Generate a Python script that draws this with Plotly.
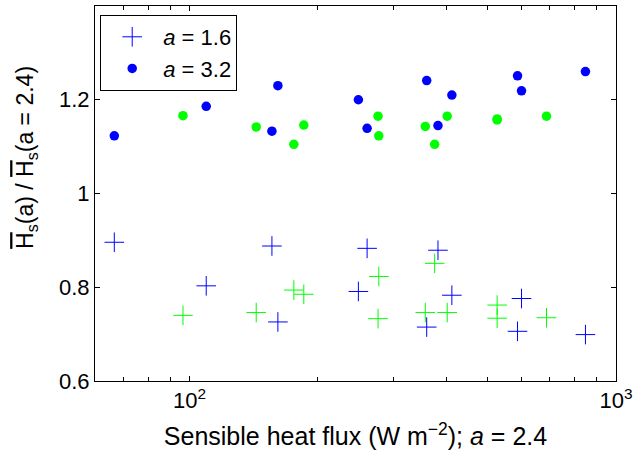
import plotly.graph_objects as go

# Sensible heat flux (W m^-2), a = 2.4
blue_flux = [66.6, 109.4, 156.0, 161.1, 248.8, 260.8, 359.8, 382.4, 412.2, 587.6, 600.4, 847.9]
blue_a16 = [0.896, 0.803, 0.888, 0.726, 0.791, 0.883, 0.715, 0.879, 0.783, 0.706, 0.776, 0.699]
blue_a32 = [1.123, 1.186, 1.133, 1.230, 1.200, 1.139, 1.241, 1.145, 1.210, 1.251, 1.219, 1.260]

green_flux = [96.5, 143.3, 175.6, 185.3, 276.7, 277.8, 357.1, 375.6, 401.9, 526.3, 526.3, 687.1]
green_a16 = [0.740, 0.746, 0.794, 0.785, 0.733, 0.823, 0.746, 0.851, 0.746, 0.762, 0.734, 0.735]
green_a32 = [1.166, 1.142, 1.105, 1.146, 1.165, 1.123, 1.143, 1.105, 1.165, 1.159, 1.157, 1.165]

x_major = [100, 1000]
x_major_text = ["10<sup>2</sup>", "10<sup>3</sup>"]
x_minor = [60, 70, 80, 90, 200, 300, 400, 500, 600, 700, 800, 900]
y_ticks = [0.6, 0.8, 1.0, 1.2]
y_tick_text = ["0.6", "0.8", "1", "1.2"]

FONT = "Liberation Sans, Arial, Helvetica, sans-serif"
FS = 22
BLUE = "#0000ff"
GREEN = "#00ff00"


def plus(color):
    return dict(symbol="cross-thin-open", size=14, color=color, line=dict(width=1, color=color))


def dot(color):
    return dict(symbol="circle", size=9.5, color=color, line=dict(width=0))


fig = go.Figure()
fig.add_trace(go.Scatter(x=blue_flux, y=blue_a16, mode="markers", name="<i>a</i> = 1.6",
                         marker=plus(BLUE)))
fig.add_trace(go.Scatter(x=blue_flux, y=blue_a32, mode="markers", name="<i>a</i> = 3.2",
                         marker=dot(BLUE)))
fig.add_trace(go.Scatter(x=green_flux, y=green_a16, mode="markers", showlegend=False,
                         marker=plus(GREEN)))
fig.add_trace(go.Scatter(x=green_flux, y=green_a32, mode="markers", showlegend=False,
                         marker=dot(GREEN)))

ov = "<span style='text-decoration:overline'>H</span>"
fig.add_annotation(text=f"{ov}<sub>s</sub>(a) / {ov}<sub>s</sub>(a = 2.4)",
                   xref="paper", yref="paper", x=-0.1305, y=0.595,
                   xanchor="center", yanchor="middle", textangle=-90, showarrow=False,
                   font=dict(family=FONT, size=23, color="black"))

fig.update_layout(
    width=636, height=460,
    margin=dict(l=95, r=20, t=6, b=79),
    paper_bgcolor="white", plot_bgcolor="white",
    font=dict(family=FONT, size=FS, color="black"),
    showlegend=True,
    legend=dict(x=0.01, y=0.976, xanchor="left", yanchor="top",
                bgcolor="white", bordercolor="black", borderwidth=1,
                itemwidth=52, tracegroupgap=0,
                entrywidth=88, entrywidthmode="pixels",
                font=dict(family=FONT, size=FS, color="black")),
    xaxis=dict(type="log", range=[1.7782, 3.0],
               tickmode="array", tickvals=x_major, ticktext=x_major_text,
               ticks="inside", ticklen=5, tickcolor="black",
               showline=True, linecolor="black", linewidth=1, mirror="ticks",
               showgrid=False, zeroline=False, automargin=False,
               minor=dict(tickmode="array", tickvals=x_minor, ticks="inside",
                          ticklen=4, tickcolor="black", showgrid=False),
               title=dict(text="Sensible heat flux (W m<sup>\u22122</sup>); <i>a</i> = 2.4",
                          font=dict(size=25), standoff=15)),
    yaxis=dict(range=[0.6, 1.4], tickmode="array", tickvals=y_ticks, ticktext=y_tick_text,
               ticks="inside", ticklen=5, tickcolor="black",
               showline=True, linecolor="black", linewidth=1, mirror="ticks",
               showgrid=False, zeroline=False, automargin=False),
)

fig.write_html("out.html", config={"displayModeBar": False},
               post_script="document.body.style.margin='0';")
